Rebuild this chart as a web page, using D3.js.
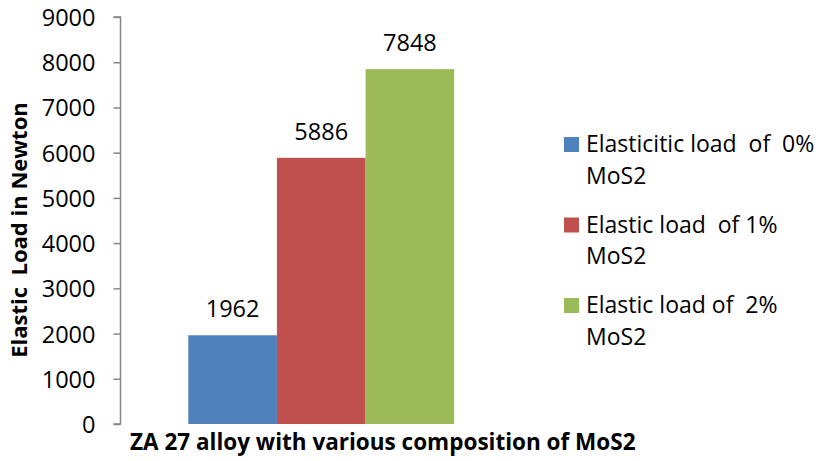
<!DOCTYPE html>
<html>
<head>
<meta charset="utf-8">
<script src="https://cdn.jsdelivr.net/npm/d3@7"></script>
<style>
  html, body { margin: 0; padding: 0; background: #fff; }
  svg { display: block; font-family: "Open Sans", sans-serif; }
  svg text { white-space: pre; }
</style>
</head>
<body>
<svg id="chart" width="823" height="461"></svg>
<script>
"use strict";

// Single category, one bar per MoS2 composition.
const category = "ZA 27 alloy with various composition of MoS2";
const seriesNames = [
  ["Elasticitic load  of  0%", "MoS2"],
  ["Elastic load  of 1%", "MoS2"],
  ["Elastic load of  2%", "MoS2"],
];
const seriesValues = [1962, 5886, 7848];
const seriesColors = ["#4f81bd", "#c0504d", "#9bbb59"];
const yTicks = [0, 1000, 2000, 3000, 4000, 5000, 6000, 7000, 8000, 9000];
const yTitle = "Elastic  Load in Newton";

const svg = d3.select("#chart");

// plot area (Excel-ish layout)
const plot = { left: 120.5, right: 522, top: 17, bottom: 424 };

const y = d3.scaleLinear().domain([0, 9000]).range([plot.bottom, plot.top]);

// one category band, the three bars fill it side by side
const x0 = d3.scaleBand().domain([category]).range([plot.left, plot.right]).paddingInner(0).paddingOuter(0.255);
const x1 = d3.scaleBand().domain(d3.range(seriesValues.length)).range([0, x0.bandwidth()]).padding(0);

// y axis
const yAxis = d3.axisLeft(y).tickValues(yTicks).tickSize(7).tickPadding(18).tickFormat(d3.format("d"));
const ga = svg.append("g").attr("transform", `translate(${plot.left},0)`).call(yAxis);
ga.select(".domain").attr("stroke", "#868686").attr("stroke-width", 1.5).attr("d", `M-7,${plot.top}H0V${plot.bottom}H-7`);
ga.selectAll(".tick line").attr("stroke", "#868686").attr("stroke-width", 1.5);
ga.selectAll(".tick text")
  .attr("fill", "#000")
  .style("font-family", "'Open Sans', sans-serif")
  .style("font-size", "23.5px")
  .attr("dy", "0.36em");

// bars
const bars = svg.append("g").attr("transform", `translate(${x0(category)},0)`);
bars.selectAll("rect")
  .data(seriesValues)
  .join("rect")
  .attr("x", (d, i) => x1(i))
  .attr("y", (d) => y(d))
  .attr("width", x1.bandwidth())
  .attr("height", (d) => y(0) - y(d))
  .attr("fill", (d, i) => seriesColors[i]);

// value labels
bars.selectAll("text")
  .data(seriesValues)
  .join("text")
  .attr("x", (d, i) => x1(i) + x1.bandwidth() / 2)
  .attr("y", (d) => y(d) - 18)
  .attr("text-anchor", "middle")
  .style("font-size", "23.5px")
  .text((d) => d);

// axis titles
svg.append("text")
  .attr("x", 130)
  .attr("y", 450)
  .style("font-size", "22.5px")
  .style("font-weight", "bold")
  .text(category);

svg.append("text")
  .attr("transform", "translate(27,230) rotate(-90)")
  .attr("text-anchor", "middle")
  .style("font-size", "22px")
  .style("font-weight", "bold")
  .text(yTitle);

// legend
const legend = svg.append("g").attr("transform", "translate(564,137)");
const item = legend.selectAll("g")
  .data(seriesNames)
  .join("g")
  .attr("transform", (d, i) => `translate(0,${i * 80.5})`);
item.append("rect")
  .attr("width", 15)
  .attr("height", 15)
  .attr("fill", (d, i) => seriesColors[i]);
item.append("text")
  .attr("x", 22)
  .attr("y", 15)
  .style("font-size", "23px")
  .selectAll("tspan")
  .data((d) => d)
  .join("tspan")
  .attr("x", 22)
  .attr("dy", (d, j) => (j ? 31.5 : 0))
  .text((d) => d);
</script>
</body>
</html>
